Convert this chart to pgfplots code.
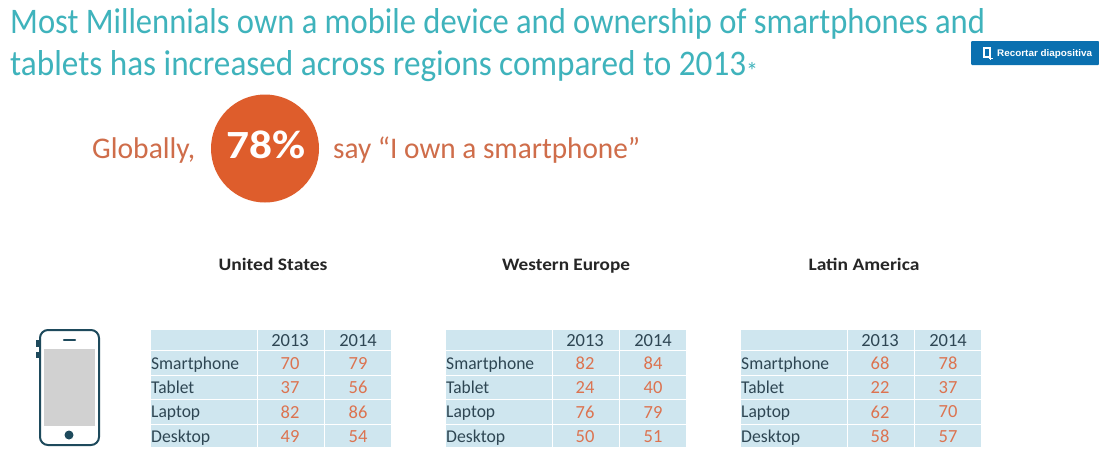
\documentclass[border=0pt]{standalone}
\usepackage{pgfplots}
\usepackage{pgfplotstable}
\usepackage{fontspec}
\setmainfont{Carlito}
\newfontfamily\arialf{Liberation Sans}
\pgfplotsset{compat=1.18}
\definecolor{ttl}{HTML}{3FB3BC}
\definecolor{org}{HTML}{CF6D4A}
\definecolor{circ}{HTML}{DE5D2C}
\definecolor{cell}{HTML}{CFE6EF}
\definecolor{dark}{HTML}{2E4653}
\definecolor{val}{HTML}{DC7350}
\definecolor{phone}{HTML}{1E4A5C}
\definecolor{btn}{HTML}{0A70B0}
\newcommand{\xfit}[2]{\resizebox{#1pt}{\height}{#2}}
\pgfplotstableread{
x y v
290 363.5 70
290 387.5 37
290 412 82
290 436.5 49
358 363.5 79
358 387.5 56
358 412 86
358 436.5 54
}\tblUS
\pgfplotstableread{
x y v
585 363.5 82
585 387.5 24
585 412 76
585 436.5 50
653 363.5 84
653 387.5 40
653 412 79
653 436.5 51
}\tblEU
\pgfplotstableread{
x y v
880 363.5 68
880 387.5 22
880 412 62
880 436.5 58
948 363.5 78
948 387.5 37
948 412 70
948 436.5 57
}\tblLA
\newcommand{\cellrow}[3]{%
  \fill[cell] (axis cs:151+#1,#2) rectangle (axis cs:256.5+#1,#3);
  \fill[cell] (axis cs:257.5+#1,#2) rectangle (axis cs:323.5+#1,#3);
  \fill[cell] (axis cs:324.5+#1,#2) rectangle (axis cs:391+#1,#3);
}
\newcommand{\tabbg}[1]{%
 \cellrow{#1}{330}{349.5}
 \cellrow{#1}{350.5}{374.5}
 \cellrow{#1}{375.5}{398.5}
 \cellrow{#1}{399.5}{423.5}
 \cellrow{#1}{424.5}{447}
 \node[font=\fontsize{18.5}{18}\selectfont,text=dark,anchor=center,inner sep=0] at (axis cs:290+#1,340.5) {2013};
 \node[font=\fontsize{18.5}{18}\selectfont,text=dark,anchor=center,inner sep=0] at (axis cs:358+#1,340.5) {2014};
 \node[font=\fontsize{18}{18}\selectfont,text=dark,anchor=base west,inner sep=0] at (axis cs:151+#1,369) {\xfit{88}{Smartphone}};
 \node[font=\fontsize{18}{18}\selectfont,text=dark,anchor=base west,inner sep=0] at (axis cs:151+#1,393) {\xfit{43}{Tablet}};
 \node[font=\fontsize{18}{18}\selectfont,text=dark,anchor=base west,inner sep=0] at (axis cs:151+#1,417) {\xfit{49}{Laptop}};
 \node[font=\fontsize{18}{18}\selectfont,text=dark,anchor=base west,inner sep=0] at (axis cs:151+#1,442) {\xfit{59}{Desktop}};
}
\pgfplotsset{vals/.style={only marks,mark=none,
  nodes near coords,point meta=explicit symbolic,
  every node near coord/.append style={anchor=center,inner sep=0,text=val,font=\fontsize{18.5}{18}\selectfont}}}
\begin{document}
\begin{tikzpicture}
\begin{axis}[width=1099pt,height=448pt,scale only axis,
  xmin=0,xmax=1099,ymin=0,ymax=448,y dir=reverse,
  axis lines=none,clip=false,anchor=south west,at={(0,0)}]
\fill[white] (axis cs:0,0) rectangle (axis cs:1099,448);
% title
\node[anchor=base west,inner sep=0,text=ttl,font=\fontsize{36}{36}\selectfont] at (axis cs:10,33) {\xfit{975}{Most Millennials own a mobile device and ownership of smartphones and}};
\node[anchor=base west,inner sep=0,text=ttl,font=\fontsize{36}{36}\selectfont] at (axis cs:10,75) {\xfit{736}{tablets has increased across regions compared to 2013}};
\node[anchor=base west,inner sep=0,text=ttl,font=\fontsize{24}{24}\selectfont] at (axis cs:746,79) {*};
% button
\fill[btn,rounded corners=1pt] (axis cs:971,41) rectangle (axis cs:1099,65);
\draw[white,line width=1.3pt] (axis cs:984,48) rectangle (axis cs:990,57);
\draw[white,line width=1pt] (axis cs:988.5,58) -- (axis cs:993,58);
\draw[white,line width=1pt] (axis cs:990.7,56) -- (axis cs:990.7,60);
\node[anchor=base west,inner sep=0,text=white,font=\arialf\bfseries\fontsize{9.6}{9.6}\selectfont] at (axis cs:997,56) {\xfit{95}{Recortar diapositiva}};
% callout
\fill[circ] (axis cs:265,148.5) circle[radius=54pt];
\node[anchor=base west,inner sep=0,text=org,font=\fontsize{30}{30}\selectfont] at (axis cs:92,158) {\xfit{103}{Globally,}};
\node[anchor=base west,inner sep=0,text=org,font=\fontsize{30}{30}\selectfont] at (axis cs:333,158) {\xfit{307}{say “I own a smartphone”}};
\node[anchor=base,inner sep=0,text=white,font=\bfseries\fontsize{40}{40}\selectfont] at (axis cs:266,158) {\xfit{79}{78\%}};
% headers
\node[anchor=base,inner sep=0,text=black!85,font=\bfseries\fontsize{17.5}{17}\selectfont] at (axis cs:273,270) {\xfit{109}{United States}};
\node[anchor=base,inner sep=0,text=black!85,font=\bfseries\fontsize{17.5}{17}\selectfont] at (axis cs:566,270) {\xfit{128}{Western Europe}};
\node[anchor=base,inner sep=0,text=black!85,font=\bfseries\fontsize{17.5}{17}\selectfont] at (axis cs:864,270) {\xfit{111}{Latin America}};
% phone
\fill[phone] (axis cs:36,340) rectangle (axis cs:39,347);
\fill[phone] (axis cs:36,352) rectangle (axis cs:39,358);
\draw[phone,line width=2pt,fill=white,rounded corners=8pt] (axis cs:40,330) rectangle (axis cs:99,445);
\fill[black!18] (axis cs:43.5,349) rectangle (axis cs:95,426);
\draw[phone,line width=2.4pt,line cap=round] (axis cs:64,340) -- (axis cs:75,340);
\fill[phone] (axis cs:69,435) circle[radius=4.5pt];
% tables
\tabbg{0}
\tabbg{295}
\tabbg{590}
\addplot[vals] table[x=x,y=y,meta=v] {\tblUS};
\addplot[vals] table[x=x,y=y,meta=v] {\tblEU};
\addplot[vals] table[x=x,y=y,meta=v] {\tblLA};
\end{axis}
\end{tikzpicture}
\end{document}
